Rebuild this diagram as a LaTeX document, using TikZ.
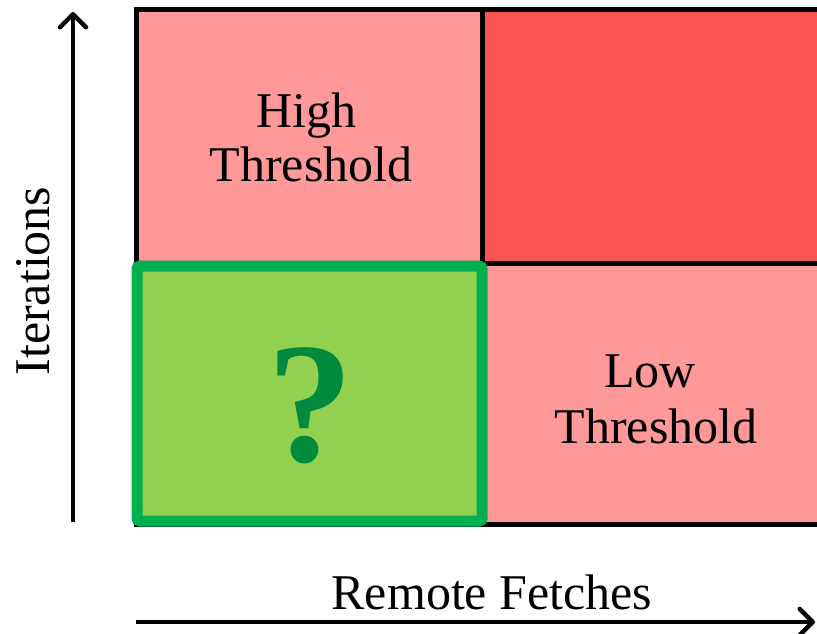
\documentclass[tikz,border=0pt]{standalone}
\usepackage{fontspec}
\setmainfont{Liberation Serif}
\usetikzlibrary{arrows.meta}
\definecolor{pinkc}{HTML}{FF9999}
\definecolor{redc}{HTML}{F95652}
\definecolor{greenfill}{HTML}{92D050}
\definecolor{greenedge}{HTML}{00B050}
\definecolor{qmark}{HTML}{008A3E}
\tikzset{
  cell/.style={draw=black, line width=5pt, inner sep=0pt, outer sep=0pt},
  lbl/.style={font=\fontsize{50}{55}\selectfont, align=center, text=black},
  axis/.style={line width=4.5pt, -{Straight Barb[length=13pt,width=26pt,line width=4.5pt,line cap=round,line join=round]}}
}
\begin{document}
\begin{tikzpicture}[x=1pt,y=-1pt]
\useasboundingbox (0,0) rectangle (817,634);
\clip (0,0) rectangle (817,634);
% cells
\draw[cell, fill=pinkc] (136,9.5) rectangle (482,263);
\draw[cell, fill=redc] (482,9.5) rectangle (830,263);
\draw[cell, fill=pinkc] (482,263) rectangle (830,524);
\draw[cell, fill=greenfill] (136,263) rectangle (482,524);
\node[draw=greenedge, line width=11pt, rounded corners=3pt, fill=greenfill, inner sep=0pt,
      minimum width=345pt, minimum height=255pt] (q) at (309.5,393.5) {};
% labels
\node[lbl, anchor=base] (high) at (306,127) {High};
\node[lbl, anchor=base] (hthr) at (311,181) {Threshold};
\node[lbl, anchor=base] (low) at (650,387) {Low};
\node[lbl, anchor=base] (lthr) at (656,443) {Threshold};
\node[anchor=base, text=qmark, font=\fontsize{172}{172}\selectfont\bfseries] (qm) at (310,461) {?};
% axes
\coordinate (ybot) at (73,522);
\coordinate (ytop) at (73,12);
\coordinate (xl) at (136,622);
\coordinate (xr) at (815,622);
\draw[axis] (ybot) -- (ytop);
\draw[axis] (xl) -- (xr);
\node[lbl, anchor=base, rotate=90] (ylab) at (49,281) {Iterations};
\node[lbl, anchor=base] (xlab) at (492,609) {Remote Fetches};
\end{tikzpicture}
\end{document}
